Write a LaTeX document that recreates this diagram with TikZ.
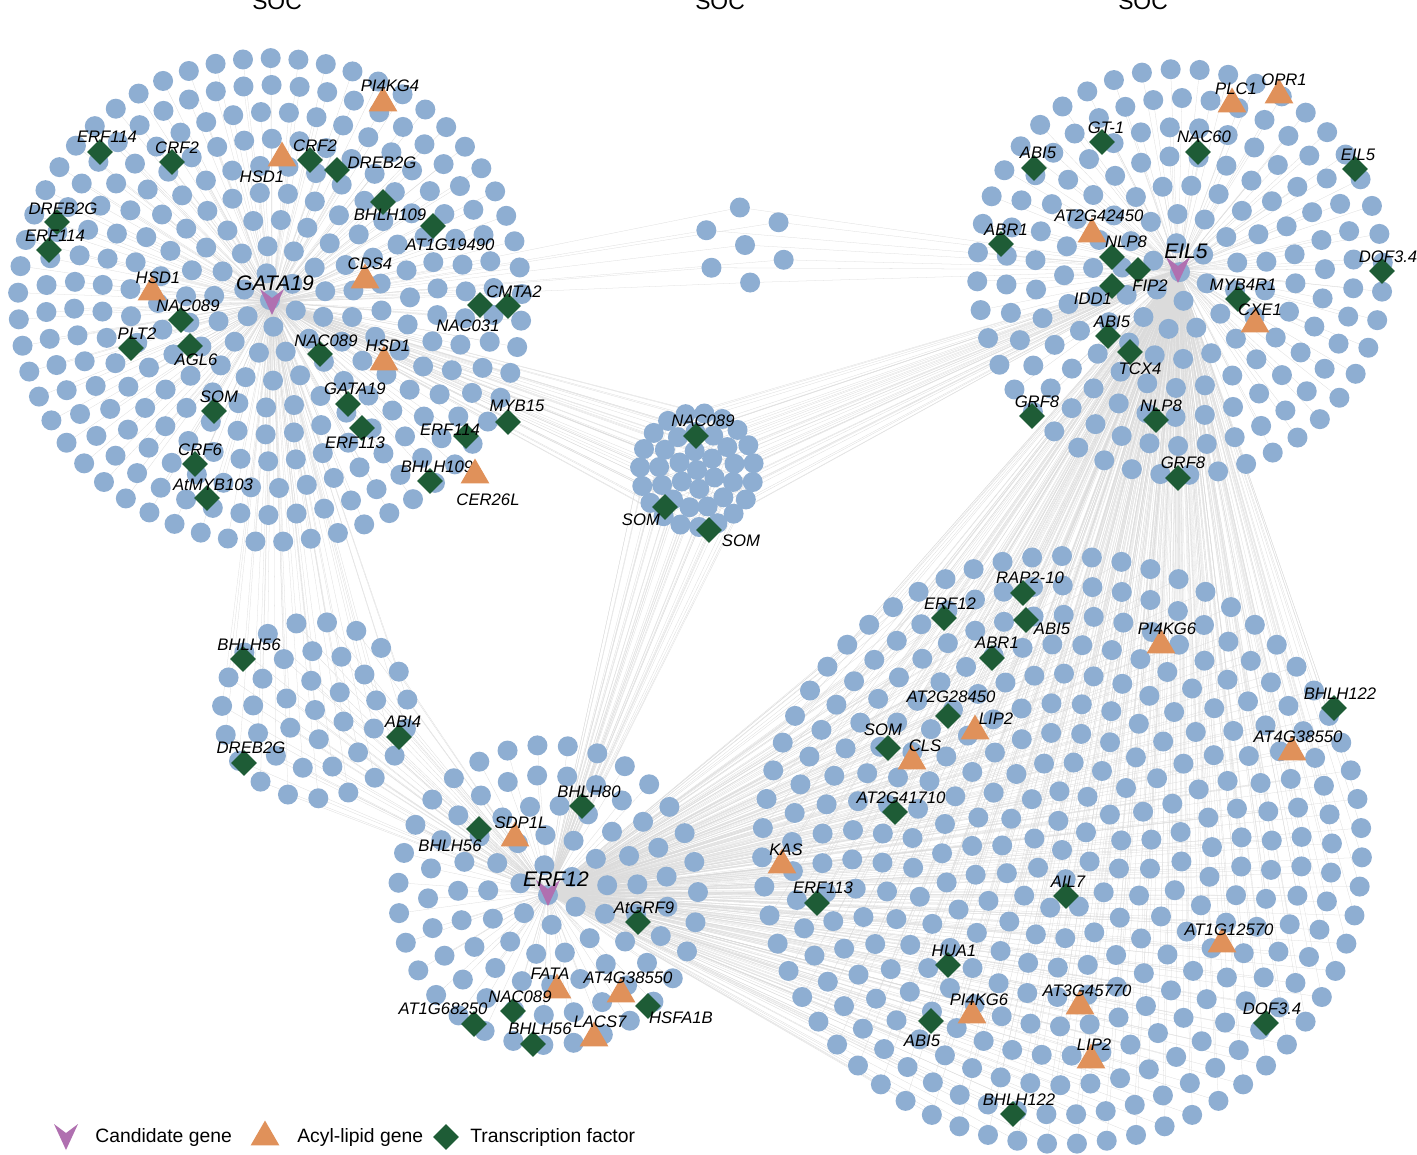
\documentclass[tikz,border=0pt]{standalone}
\usepackage{fontspec}
\setmainfont{Liberation Sans}
\usetikzlibrary{shapes.geometric}
\definecolor{dotblue}{HTML}{8EAED2}
\definecolor{acylorange}{HTML}{E0915A}
\definecolor{tfgreen}{HTML}{1E5C36}
\definecolor{candpurple}{HTML}{B070B0}

\tikzset{
    gene node/.style={circle,fill=dotblue,inner sep=0,minimum size=0.4cm},
    acyl node/.style={regular polygon,regular polygon sides=3,fill=acylorange,inner sep=0,minimum size=0.66cm},
    tf node/.style={diamond,fill=tfgreen,inner sep=0,minimum size=0.52cm},
    gene label/.style={font=\fontsize{9.5}{11}\selectfont\itshape,inner sep=0},
    hub label/.style={font=\fontsize{12}{14}\selectfont\itshape,inner sep=0},
    legend text/.style={font=\fontsize{11}{13}\selectfont,anchor=west,inner sep=0},
    link/.style={draw=gray!28,line width=0.15pt}
    }

% rings of points around a centre
\newcommand\netcluster[6]{%
    \coordinate (#1-0-0) at (#2,#3);
    \foreach \j in {1,...,#4}{
        \pgfmathtruncatemacro\nk{round(6.2832*\j)-1}
        \foreach \k in {0,...,\nk}{
            \coordinate (#1-\j-\k) at ({#2+#5*\j*cos(360/(\nk+1)*\k+23*\j)},{#3+#6*#5*\j*sin(360/(\nk+1)*\k+23*\j)});
        }}}
\newcommand\hublinks[3]{%
    \draw[link] (#1) -- (#2-0-0);
    \foreach \j in {1,...,#3}{
        \pgfmathtruncatemacro\nk{round(6.2832*\j)-1}
        \foreach \k in {0,...,\nk}{\draw[link] (#1) -- (#2-\j-\k);}}}
\newcommand\genedots[2]{%
    \node[gene node] (#1d-0-0) at (#1-0-0) {};
    \foreach \j in {1,...,#2}{
        \pgfmathtruncatemacro\nk{round(6.2832*\j)-1}
        \foreach \k in {0,...,\nk}{\node[gene node] (#1d-\j-\k) at (#1-\j-\k) {};}}}
\newcommand\tf[4]{\node[tf node] (#1) at (#2) {}; \node[gene label] (#1-l) at (#4) {#3};}
\newcommand\acyl[4]{\node[acyl node] (#1) at (#2) {}; \node[gene label] (#1-l) at (#4) {#3};}
\newcommand\candidate[4]{%
    \fill[candpurple] (#1) ++(-12,-13) -- ++(12,9) -- ++(12,-9) -- ++(-12,26) -- cycle;
    \node[hub label] (#1-l) at (#4) {#3};}

\begin{document}
\begin{tikzpicture}[x=0.02cm,y=-0.02cm]
    \useasboundingbox[fill=white] (0,0) rectangle (1417,1154);
    \node[font=\fontsize{13}{15}\selectfont] (soc1) at (277,2) {SOC};
    \node[font=\fontsize{13}{15}\selectfont] (soc2) at (720,2) {SOC};
    \node[font=\fontsize{13}{15}\selectfont] (soc3) at (1143,2) {SOC};

    \coordinate (gata) at (272,302);
    \coordinate (eil) at (1178,270);
    \coordinate (erf) at (548,893);

    \netcluster{ca}{270}{300}{9}{28}{0.96}
    \netcluster{cb}{745}{245}{1}{42}{0.9}
    \netcluster{cc}{1180}{272}{7}{29}{1}
    \netcluster{cd}{697}{470}{3}{19}{1}
    \netcluster{ce}{315}{710}{3}{31}{0.95}
    \netcluster{cf}{548}{895}{5}{30}{1}
    \netcluster{cg}{1062}{850}{10}{30}{0.98}

    % edges
    \hublinks{gata}{ca}{9}
    \hublinks{gata}{ce}{3}
    \hublinks{gata}{cb}{1}
    \hublinks{gata}{cd}{3}
    \hublinks{eil}{cc}{7}
    \hublinks{eil}{cg}{10}
    \hublinks{eil}{cb}{1}
    \hublinks{eil}{cd}{3}
    \hublinks{erf}{cf}{5}
    \hublinks{erf}{cg}{10}
    \hublinks{erf}{ce}{3}
    \hublinks{erf}{cd}{3}

    \genedots{ca}{9}
    \genedots{cb}{1}
    \genedots{cc}{7}
    \genedots{cd}{3}
    \genedots{ce}{3}
    \genedots{cf}{5}
    \genedots{cg}{10}

    % GATA19 module
    \acyl{a1}{383,103}{PI4KG4}{390,86}
    \tf{t1}{100,152}{ERF114}{107,137}
    \tf{t2}{172,162}{CRF2}{177,148}
    \acyl{a2}{282,158}{HSD1}{262,177}
    \tf{t3}{310,160}{CRF2}{315,146}
    \tf{t4}{337,170}{DREB2G}{382,163}
    \tf{t5}{383,202}{BHLH109}{390,215}
    \tf{t6}{433,226}{AT1G19490}{450,245}
    \tf{t7}{57,222}{DREB2G}{63,209}
    \tf{t8}{49,250}{ERF114}{55,236}
    \acyl{a3}{152,292}{HSD1}{158,278}
    \acyl{a4}{365,280}{CDS4}{370,264}
    \tf{t9}{480,305}{NAC031}{468,326}
    \tf{t10}{508,306}{CMTA2}{514,292}
    \tf{t11}{181,320}{NAC089}{188,306}
    \tf{t12}{131,348}{PLT2}{137,334}
    \tf{t13}{190,346}{AGL6}{196,360}
    \tf{t14}{320,354}{NAC089}{326,341}
    \acyl{a5}{384,362}{HSD1}{388,346}
    \tf{t15}{214,411}{SOM}{219,397}
    \tf{t16}{348,404}{GATA19}{355,389}
    \tf{t17}{508,422}{MYB15}{517,406}
    \tf{t18}{362,428}{ERF113}{355,443}
    \tf{t19}{466,436}{ERF114}{450,430}
    \tf{t20}{195,464}{CRF6}{200,450}
    \tf{t21}{430,481}{BHLH109}{437,467}
    \acyl{a6}{475,475}{CER26L}{488,500}
    \tf{t22}{207,498}{AtMYB103}{213,485}
    \candidate{gata}{gata}{GATA19}{275,283}

    % middle module
    \tf{t23}{696,436}{NAC089}{703,421}
    \tf{t24}{665,507}{SOM}{641,520}
    \tf{t25}{709,530}{SOM}{741,541}

    % EIL5 module
    \acyl{a7}{1279,95}{OPR1}{1284,80}
    \acyl{a8}{1232,104}{PLC1}{1236,89}
    \tf{t26}{1102,142}{GT-1}{1106,128}
    \tf{t27}{1198,152}{NAC60}{1204,137}
    \tf{t28}{1034,168}{ABI5}{1038,153}
    \tf{t29}{1355,169}{EIL5}{1358,155}
    \acyl{a9}{1092,234}{AT2G42450}{1099,216}
    \tf{t30}{1001,244}{ABR1}{1006,230}
    \tf{t31}{1112,257}{NLP8}{1126,242}
    \tf{t32}{1382,271}{DOF3.4}{1388,257}
    \tf{t33}{1138,270}{}{1138,270}
    \tf{t34}{1112,286}{FIP2}{1150,286}
    \node[gene label] (idd) at (1093,299) {IDD1};
    \tf{t35}{1238,299}{MYB4R1}{1243,285}
    \acyl{a10}{1255,324}{CXE1}{1260,310}
    \tf{t36}{1108,336}{ABI5}{1112,322}
    \tf{t37}{1130,352}{TCX4}{1140,369}
    \tf{t38}{1032,416}{GRF8}{1037,402}
    \tf{t39}{1156,420}{NLP8}{1161,406}
    \tf{t40}{1178,478}{GRF8}{1183,463}
    \candidate{eil}{eil}{EIL5}{1186,251}

    % lower left module
    \tf{t41}{243,659}{BHLH56}{249,645}
    \tf{t42}{399,737}{ABI4}{403,722}
    \tf{t43}{244,763}{DREB2G}{251,748}

    % ERF12 module
    \tf{t44}{582,806}{BHLH80}{589,792}
    \acyl{a11}{515,838}{SDP1L}{521,823}
    \tf{t45}{479,829}{BHLH56}{450,846}
    \tf{t46}{638,922}{AtGRF9}{644,908}
    \acyl{a12}{557,990}{FATA}{550,974}
    \acyl{a13}{621,994}{AT4G38550}{628,978}
    \tf{t47}{648,1006}{HSFA1B}{681,1018}
    \tf{t48}{513,1011}{NAC089}{520,997}
    \tf{t49}{474,1024}{AT1G68250}{443,1009}
    \tf{t50}{533,1044}{BHLH56}{540,1029}
    \acyl{a14}{594,1038}{LACS7}{600,1022}
    \candidate{erf}{erf}{ERF12}{556,879}

    % lower right module
    \tf{t51}{1023,593}{RAP2-10}{1030,578}
    \tf{t52}{944,618}{ERF12}{950,604}
    \tf{t53}{1026,620}{ABI5}{1052,629}
    \acyl{a15}{1161,645}{PI4KG6}{1167,629}
    \tf{t54}{992,658}{ABR1}{997,643}
    \tf{t55}{1334,708}{BHLH122}{1340,694}
    \tf{t56}{948,716}{AT2G28450}{951,697}
    \acyl{a16}{975,731}{LIP2}{996,719}
    \tf{t57}{888,748}{SOM}{883,730}
    \acyl{a17}{912,761}{CLS}{925,746}
    \acyl{a18}{1292,752}{AT4G38550}{1298,737}
    \tf{t58}{895,812}{AT2G41710}{901,798}
    \acyl{a19}{782,865}{KAS}{786,850}
    \tf{t59}{817,903}{ERF113}{823,888}
    \tf{t60}{1066,896}{AIL7}{1068,882}
    \acyl{a20}{1222,944}{AT1G12570}{1229,930}
    \tf{t61}{948,965}{HUA1}{954,951}
    \acyl{a21}{972,1015}{PI4KG6}{979,1000}
    \acyl{a22}{1080,1006}{AT3G45770}{1087,991}
    \tf{t62}{1266,1023}{DOF3.4}{1272,1009}
    \tf{t63}{931,1021}{ABI5}{922,1041}
    \acyl{a23}{1091,1060}{LIP2}{1094,1045}
    \tf{t64}{1013,1114}{BHLH122}{1019,1100}

    % legend
    \coordinate (lg1) at (66,1137);
    \fill[candpurple] (lg1) ++(-12,-13) -- ++(12,9) -- ++(12,-9) -- ++(-12,26) -- cycle;
    \node[legend text] (lt1) at (95,1137) {Candidate gene};
    \node[acyl node] (lg2) at (265,1137) {};
    \node[legend text] (lt2) at (297,1137) {Acyl-lipid gene};
    \node[tf node] (lg3) at (446,1137) {};
    \node[legend text] (lt3) at (470,1137) {Transcription factor};
\end{tikzpicture}
\end{document}
